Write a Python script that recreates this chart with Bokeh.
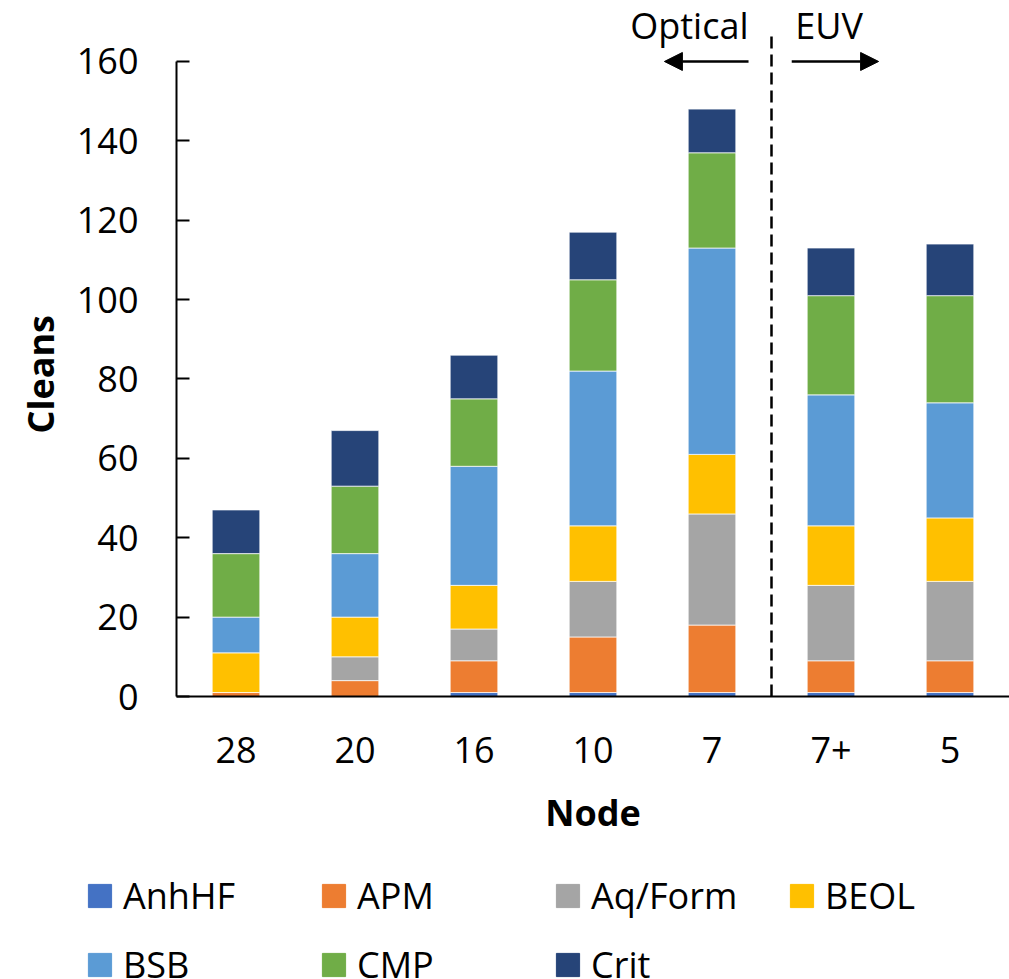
from bokeh.plotting import figure
from bokeh.layouts import column, row
from bokeh.models import (ColumnDataSource, FactorRange, Range1d, FixedTicker, Legend,
                          LegendItem, Label, Arrow, NormalHead, Title)
from bokeh.embed import file_html
from bokeh.resources import INLINE

nodes = ["28", "20", "16", "10", "7", "7+", "5"]
series = ["AnhHF", "APM", "Aq/Form", "BEOL", "BSB", "CMP", "Crit"]
anhhf = [0, 0, 1, 1, 1, 1, 1]
apm = [1, 4, 8, 14, 17, 8, 8]
aqform = [0, 6, 8, 14, 28, 19, 20]
beol = [10, 10, 11, 14, 15, 15, 16]
bsb = [9, 16, 30, 39, 52, 33, 29]
cmp_ = [16, 17, 17, 23, 24, 25, 27]
crit = [11, 14, 11, 12, 11, 12, 13]
colors = ["#4472C4", "#ED7D31", "#A5A5A5", "#FFC000", "#5B9BD5", "#70AD47", "#264478"]
y_ticks = [0, 20, 40, 60, 80, 100, 120, 140, 160]

FONT = "Open Sans"
MAIN_H = 848

data = dict(node=nodes, AnhHF=anhhf, APM=apm, BEOL=beol, BSB=bsb, CMP=cmp_, Crit=crit)
data["Aq/Form"] = aqform
source = ColumnDataSource(data)

p = figure(x_range=FactorRange(*nodes), y_range=Range1d(0, 173.35),
           width=1009, height=MAIN_H, output_backend="svg", toolbar_location=None,
           min_border_left=176, min_border_right=0, min_border_top=8,
           min_border_bottom=MAIN_H - 696)
p.outline_line_color = None
p.xgrid.grid_line_color = None
p.ygrid.grid_line_color = None

p.vbar_stack(series, x="node", width=0.4, color=colors, source=source,
             line_color="white", line_width=1, line_alpha=0.7)

# axes
p.yaxis.ticker = FixedTicker(ticks=y_ticks)
p.yaxis.bounds = (0, 160)
p.yaxis.major_tick_in = 13
p.yaxis.major_tick_out = 0
p.yaxis.minor_tick_line_color = None
p.yaxis.axis_line_width = 2
p.yaxis.major_tick_line_width = 2
p.yaxis.axis_line_color = "black"
p.yaxis.major_tick_line_color = "black"
p.yaxis.major_label_text_font = FONT
p.yaxis.major_label_text_font_size = "36px"
p.yaxis.major_label_text_color = "black"
p.yaxis.major_label_standoff = 38

p.xaxis.major_tick_line_color = None
p.xaxis.minor_tick_line_color = None
p.xaxis.axis_line_width = 2
p.xaxis.axis_line_color = "black"
p.xaxis.major_label_text_font = FONT
p.xaxis.major_label_text_font_size = "36px"
p.xaxis.major_label_text_color = "black"
p.xaxis.major_label_standoff = 34
p.xaxis.axis_label = "Node"
p.xaxis.axis_label_text_font = FONT
p.xaxis.axis_label_text_font_style = "bold"
p.xaxis.axis_label_text_font_size = "36px"
p.xaxis.axis_label_text_color = "black"
p.xaxis.axis_label_standoff = 22

p.add_layout(Title(text="Cleans", align="left", offset=263, standoff=18,
                   text_font=FONT, text_font_style="bold", text_font_size="36px",
                   text_color="black"), "left")

# divider and annotations
p.segment(x0=[5.0], y0=[0], x1=[5.0], y1=[167.8], line_color="black",
          line_width=2.5, line_dash="12 6")
p.add_layout(Label(x=4.807, y=169.0, text="Optical", text_align="right",
                   text_baseline="middle", text_font=FONT, text_font_size="36px",
                   text_color="black"))
p.add_layout(Label(x=5.20, y=169.0, text="EUV", text_align="left",
                   text_baseline="middle", text_font=FONT, text_font_size="36px",
                   text_color="black"))
p.add_layout(Arrow(x_start=4.807, y_start=160, x_end=4.10, y_end=160,
                   line_width=2.5, line_color="black",
                   end=NormalHead(size=18, fill_color="black", line_color="black")))
p.add_layout(Arrow(x_start=5.17, y_start=160, x_end=5.90, y_end=160,
                   line_width=2.5, line_color="black",
                   end=NormalHead(size=18, fill_color="black", line_color="black")))

# legend figure (bars kept out of view, only the legend shows)
LEG_H = 979 - MAIN_H
q = figure(x_range=FactorRange(*nodes), y_range=Range1d(1000, 1001),
           width=1009, height=LEG_H, output_backend="svg", toolbar_location=None,
           min_border_left=0, min_border_right=0, min_border_top=0, min_border_bottom=0)
q.axis.visible = False
q.grid.grid_line_color = None
q.outline_line_color = None
leg_renderers = q.vbar_stack(series, x="node", width=0.4, color=colors, source=source)
items = [LegendItem(label=s, renderers=[r]) for s, r in zip(series, leg_renderers)]
legend = Legend(items=items, orientation="horizontal", ncols=4,
                location=(85, LEG_H - 116 - 25),
                glyph_width=29, glyph_height=29, label_standoff=9, label_width=176,
                label_height=48, spacing=20, padding=0, margin=0, border_line_color=None,
                label_text_font=FONT, label_text_font_size="36px", label_text_color="black",
                background_fill_alpha=0)
q.add_layout(legend)

layout = column(p, row(q), spacing=0)
open("out.html", "w").write(file_html(layout, INLINE))
